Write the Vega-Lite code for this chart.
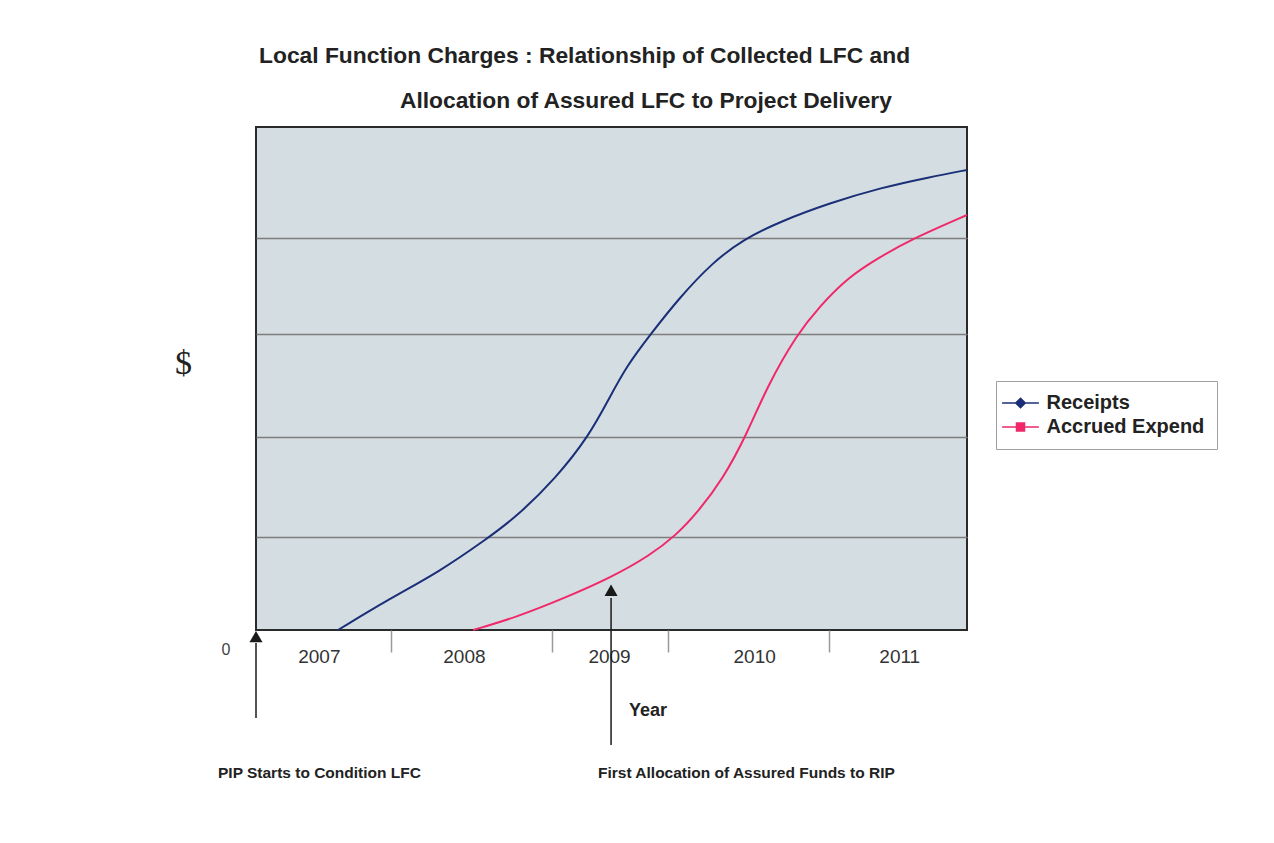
{
  "$schema": "https://vega.github.io/schema/vega-lite/v6.json",
  "width": 711,
  "height": 503,
  "autosize": {"type": "none"},
  "padding": {"left": 256, "top": 127, "right": 307, "bottom": 213},
  "background": "white",
  "config": {
    "view": {"fill": "#d4dde1", "stroke": "#2a2a2a", "strokeWidth": 2},
    "font": "Liberation Sans"
  },
  "layer": [
    {
      "data": {"values": [
        {"year": 2007.132, "value": 0, "series": "Receipts"},
        {"year": 2007.484, "value": 0.308, "series": "Receipts"},
        {"year": 2007.828, "value": 0.577, "series": "Receipts"},
        {"year": 2008.152, "value": 0.9, "series": "Receipts"},
        {"year": 2008.366, "value": 1.13, "series": "Receipts"},
        {"year": 2008.635, "value": 1.511, "series": "Receipts"},
        {"year": 2008.862, "value": 1.93, "series": "Receipts"},
        {"year": 2009.0, "value": 2.3, "series": "Receipts"},
        {"year": 2009.12, "value": 2.62, "series": "Receipts"},
        {"year": 2009.282, "value": 2.932, "series": "Receipts"},
        {"year": 2009.489, "value": 3.31, "series": "Receipts"},
        {"year": 2009.717, "value": 3.658, "series": "Receipts"},
        {"year": 2009.923, "value": 3.88, "series": "Receipts"},
        {"year": 2010.178, "value": 4.06, "series": "Receipts"},
        {"year": 2010.523, "value": 4.245, "series": "Receipts"},
        {"year": 2010.867, "value": 4.394, "series": "Receipts"},
        {"year": 2011.212, "value": 4.503, "series": "Receipts"},
        {"year": 2011.467, "value": 4.573, "series": "Receipts"},
        {"year": 2008.063, "value": 0, "series": "Accrued Expend"},
        {"year": 2008.366, "value": 0.129, "series": "Accrued Expend"},
        {"year": 2008.71, "value": 0.328, "series": "Accrued Expend"},
        {"year": 2009.007, "value": 0.517, "series": "Accrued Expend"},
        {"year": 2009.282, "value": 0.74, "series": "Accrued Expend"},
        {"year": 2009.468, "value": 0.95, "series": "Accrued Expend"},
        {"year": 2009.606, "value": 1.163, "series": "Accrued Expend"},
        {"year": 2009.785, "value": 1.5, "series": "Accrued Expend"},
        {"year": 2009.951, "value": 1.95, "series": "Accrued Expend"},
        {"year": 2010.089, "value": 2.42, "series": "Accrued Expend"},
        {"year": 2010.295, "value": 2.94, "series": "Accrued Expend"},
        {"year": 2010.454, "value": 3.22, "series": "Accrued Expend"},
        {"year": 2010.64, "value": 3.499, "series": "Accrued Expend"},
        {"year": 2010.867, "value": 3.708, "series": "Accrued Expend"},
        {"year": 2011.074, "value": 3.877, "series": "Accrued Expend"},
        {"year": 2011.467, "value": 4.125, "series": "Accrued Expend"}
      ]},
      "mark": {"type": "line", "interpolate": "basis", "strokeWidth": 2},
      "encoding": {
        "x": {
          "field": "year", "type": "quantitative",
          "scale": {"domain": [2006.567, 2011.467], "nice": false, "zero": false},
          "axis": {
            "title": null,
            "values": [2007, 2007.497, 2008, 2008.607, 2009, 2009.406, 2010, 2010.516, 2011],
            "labelExpr": "abs(datum.value - round(datum.value)) < 0.01 ? format(datum.value, 'd') : ''",
            "labelOverlap": false,
            "labelFlush": false,
            "labelFontSize": 19,
            "labelColor": "#333333",
            "labelPadding": -5,
            "domain": false,
            "grid": false,
            "tickSize": 22,
            "tickWidth": 1.5,
            "tickColor": "#9a9a9a",
            "tickOpacity": {"condition": {"test": "abs(datum.value - round(datum.value)) > 0.01", "value": 1}, "value": 0}
          }
        },
        "y": {
          "field": "value", "type": "quantitative",
          "scale": {"domain": [0, 5], "nice": false, "zero": true},
          "axis": {
            "title": "$",
            "titleAngle": 0,
            "titleFont": "Liberation Serif",
            "titleFontSize": 34,
            "titleFontWeight": "normal",
            "titleColor": "#222222",
            "titleX": -73,
            "titleY": 236,
            "titleAlign": "center",
            "titleBaseline": "middle",
            "values": [0.924, 1.918, 2.942, 3.897],
            "labels": false,
            "ticks": false,
            "domain": false,
            "grid": true,
            "gridColor": "#7d7d7d",
            "gridWidth": 1.3
          }
        },
        "color": {
          "field": "series", "type": "nominal",
          "scale": {"domain": ["Receipts", "Accrued Expend"], "range": ["#1b2f78", "#f0286a"]},
          "legend": {
            "title": null,
            "orient": "none",
            "legendX": 740,
            "legendY": 254,
            "padding": 12,
            "strokeColor": "#a0a0a0",
            "fillColor": "white",
            "symbolSize": 256,
            "symbolOffset": 2.5,
            "symbolStrokeWidth": 1.5,
            "labelOffset": 16,
            "labelFontSize": 20,
            "labelFontWeight": "bold",
            "labelColor": "#222222",
            "rowPadding": 4,
            "encode": {
              "symbols": {"update": {
                "shape": {"signal": "datum.value === 'Receipts' ? 'M-2.3,0H2.3M0,-0.6L0.6,0L0,0.6L-0.6,0Z' : 'M-2.3,0H2.3M-0.5,-0.5H0.5V0.5H-0.5Z'"},
                "fill": {"scale": "color", "field": "value"},
                "stroke": {"scale": "color", "field": "value"},
                "strokeWidth": {"value": 1.5}
              }}
            }
          }
        }
      }
    },
    {
      "data": {"values": [
        {"year": 2006.567, "top": -0.13, "bottom": -0.875},
        {"year": 2009.014, "top": 0.318, "bottom": -1.143}
      ]},
      "mark": {"type": "rule", "clip": false, "color": "#1a1a1a", "strokeWidth": 1.5},
      "encoding": {
        "x": {"field": "year", "type": "quantitative"},
        "y": {"field": "top", "type": "quantitative"},
        "y2": {"field": "bottom"}
      }
    },
    {
      "data": {"values": [
        {"year": 2006.567, "value": -0.065},
        {"year": 2009.014, "value": 0.395}
      ]},
      "mark": {"type": "point", "shape": "triangle-up", "filled": true, "clip": false, "color": "#1a1a1a", "size": 170, "opacity": 1},
      "encoding": {
        "x": {"field": "year", "type": "quantitative"},
        "y": {"field": "value", "type": "quantitative"}
      }
    },
    {
      "data": {"values": [
        {"text": "Local Function Charges : Relationship of Collected LFC and", "year": 2006.588, "value": 5.641},
        {"text": "Allocation of Assured LFC to Project Delivery", "year": 2007.559, "value": 5.192}
      ]},
      "mark": {"type": "text", "clip": false, "align": "left", "baseline": "alphabetic", "fontSize": 22.8, "fontWeight": "bold", "color": "#222222"},
      "encoding": {
        "x": {"field": "year", "type": "quantitative"},
        "y": {"field": "value", "type": "quantitative"},
        "text": {"field": "text"}
      }
    },
    {
      "data": {"values": [
        {"text": "Year", "year": 2009.138, "value": -0.855}
      ]},
      "mark": {"type": "text", "clip": false, "align": "left", "baseline": "alphabetic", "fontSize": 18, "fontWeight": "bold", "color": "#222222"},
      "encoding": {
        "x": {"field": "year", "type": "quantitative"},
        "y": {"field": "value", "type": "quantitative"},
        "text": {"field": "text"}
      }
    },
    {
      "data": {"values": [
        {"text": "PIP Starts to Condition LFC", "year": 2006.305, "value": -1.471},
        {"text": "First Allocation of Assured Funds to RIP", "year": 2008.924, "value": -1.471}
      ]},
      "mark": {"type": "text", "clip": false, "align": "left", "baseline": "alphabetic", "fontSize": 15.5, "fontWeight": "bold", "color": "#222222"},
      "encoding": {
        "x": {"field": "year", "type": "quantitative"},
        "y": {"field": "value", "type": "quantitative"},
        "text": {"field": "text"}
      }
    },
    {
      "data": {"values": [
        {"text": "0", "year": 2006.36, "value": -0.2}
      ]},
      "mark": {"type": "text", "clip": false, "align": "center", "baseline": "middle", "fontSize": 16, "color": "#444444"},
      "encoding": {
        "x": {"field": "year", "type": "quantitative"},
        "y": {"field": "value", "type": "quantitative"},
        "text": {"field": "text"}
      }
    }
  ]
}
